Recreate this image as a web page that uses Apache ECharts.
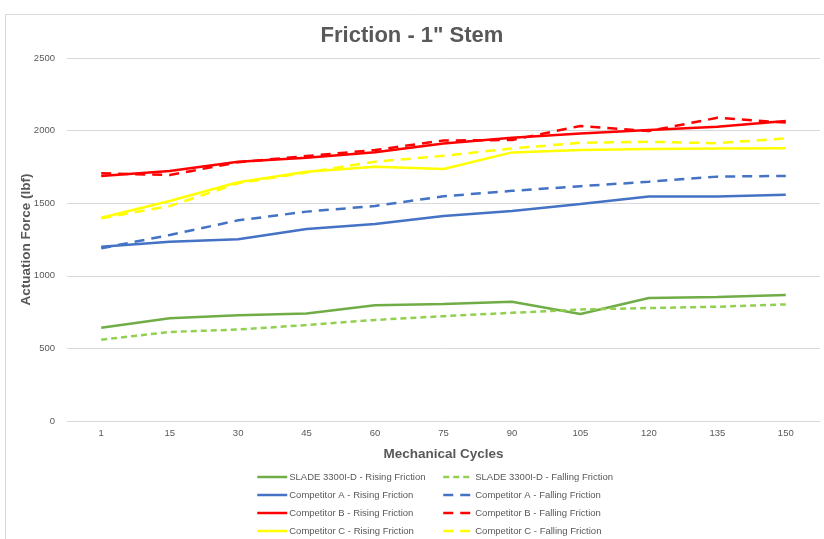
<!DOCTYPE html>
<html><head><meta charset="utf-8">
<script src="https://cdn.jsdelivr.net/npm/echarts@6/dist/echarts.min.js"></script>
<style>html,body{margin:0;padding:0;background:#fff}#c{width:824px;height:539px}</style>
</head><body><div id="c"></div>
<script>
const categories = ['1','15','30','45','60','75','90','105','120','135','150'];
const sladeRising   = [642, 707, 728, 740, 797, 805, 822, 737, 847, 854, 867];
const sladeFalling  = [560, 613, 630, 661, 696, 722, 745, 768, 778, 787, 803];
const compARising   = [1200, 1235, 1251, 1322, 1357, 1412, 1446, 1494, 1546, 1546, 1559];
const compAFalling  = [1189, 1281, 1382, 1442, 1481, 1548, 1585, 1617, 1648, 1683, 1688];
const compBRising   = [1687, 1722, 1786, 1813, 1851, 1911, 1950, 1980, 2004, 2027, 2066];
const compBFalling  = [1706, 1694, 1782, 1825, 1866, 1932, 1935, 2032, 1997, 2088, 2055];
const compCRising   = [1400, 1515, 1644, 1717, 1751, 1736, 1850, 1866, 1873, 1876, 1878];
const compCFalling  = [1397, 1480, 1637, 1712, 1786, 1826, 1877, 1916, 1923, 1913, 1947];
const yTicks = {min: 0, max: 2500, interval: 500};

const font = 'Liberation Sans, Arial, sans-serif';
function mk(name, data, color, dash) {
  return {name, type: 'line', data, symbol: 'none', smooth: false,
    lineStyle: {color, width: 2.5, type: dash || 'solid'}, itemStyle: {color}};
}
const series = [
  mk('SLADE 3300I-D - Rising Friction', sladeRising, '#70AD47'),
  mk('SLADE 3300I-D - Falling Friction', sladeFalling, '#92D050', [6, 4]),
  mk('Competitor A - Rising Friction', compARising, '#4472C4'),
  mk('Competitor A - Falling Friction', compAFalling, '#4472C4', [10, 7]),
  mk('Competitor B - Rising Friction', compBRising, '#FF0000'),
  mk('Competitor B - Falling Friction', compBFalling, '#FF0000', [10, 7]),
  mk('Competitor C - Rising Friction', compCRising, '#FFFF00'),
  mk('Competitor C - Falling Friction', compCFalling, '#FFFF00', [10, 7]),
];
const legendCommon = {orient: 'vertical', itemWidth: 30, itemHeight: 10, itemGap: 8,
  itemStyle: {opacity: 0}, lineStyle: {width: 2.5},
  textStyle: {fontFamily: font, fontSize: 9.5, color: '#595959', padding: [0, 0, 0, -3]}, padding: 0};
const chart = echarts.init(document.getElementById('c'), null, {renderer: 'canvas'});
chart.setOption({
  backgroundColor: '#fff',
  animation: false,
  graphic: [{type: 'rect', shape: {x: 5.5, y: 14.5, width: 830, height: 540}, style: {fill: 'none', stroke: '#D9D9D9', lineWidth: 1}, silent: true, z: -1}],
  title: {text: 'Friction - 1" Stem', left: 'center', top: 20,
    textStyle: {fontFamily: font, fontWeight: 'bold', fontSize: 22, color: '#595959'}},
  legend: [
    Object.assign({left: 256, top: 472, data: series.filter((s, i) => i % 2 === 0).map(s => s.name)}, legendCommon),
    Object.assign({left: 442, top: 472, data: series.filter((s, i) => i % 2 === 1).map(s => s.name)}, legendCommon),
  ],
  grid: {left: 67, right: 4, top: 58, bottom: 118, containLabel: false},
  xAxis: {type: 'category', data: categories, boundaryGap: true,
    name: 'Mechanical Cycles', nameLocation: 'middle', nameGap: 26, nameMoveOverlap: false,
    nameTextStyle: {fontFamily: font, fontWeight: 'bold', fontSize: 13.5, color: '#595959'},
    axisLine: {lineStyle: {color: '#D9D9D9'}}, axisTick: {show: false},
    axisLabel: {fontFamily: font, fontSize: 9.5, color: '#595959', margin: 7}},
  yAxis: {type: 'value', min: yTicks.min, max: yTicks.max, interval: yTicks.interval,
    name: 'Actuation Force (lbf)', nameLocation: 'middle', nameGap: 34, nameRotate: 90, nameMoveOverlap: false,
    nameTextStyle: {fontFamily: font, fontWeight: 'bold', fontSize: 13.5, color: '#595959'},
    axisLine: {show: false}, axisTick: {show: false},
    splitLine: {lineStyle: {color: '#D9D9D9'}},
    axisLabel: {fontFamily: font, fontSize: 9.5, color: '#595959', margin: 12, formatter: v => String(v)}},
  series
});
</script></body></html>
